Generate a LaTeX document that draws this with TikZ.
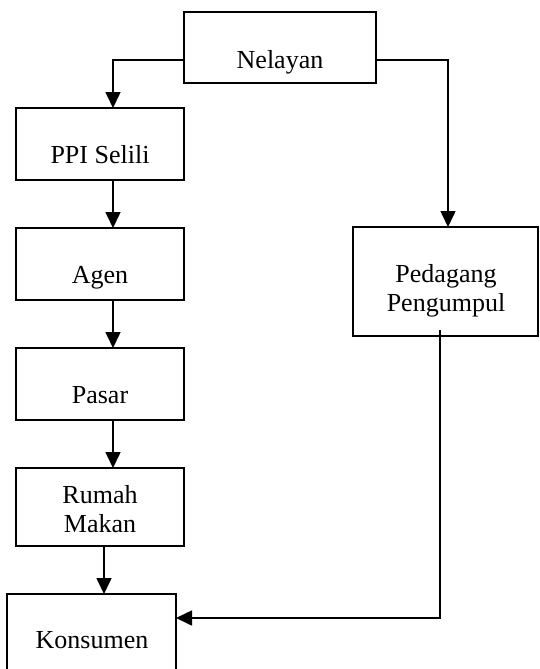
\documentclass[tikz,border=0pt]{standalone}
\usepackage{fontspec}
\setmainfont{Liberation Serif}
\usetikzlibrary{arrows.meta}
\tikzset{
  box/.style={draw=black, line width=1.6pt, rectangle, inner sep=0pt, outer sep=0pt},
  txt/.style={anchor=base, inner sep=0pt, font=\fontsize{26}{29}\selectfont, align=center},
  arr/.style={draw=black, line width=1.6pt, -{Triangle[length=16pt,width=15pt]}},
}
\begin{document}
\begin{tikzpicture}[x=1pt,y=-1pt]
\useasboundingbox (0,0) rectangle (539,669);
% boxes
\node[box, minimum width=192pt, minimum height=71pt] (nel) at (280,47.5) {};
\node[box, minimum width=168pt, minimum height=72pt] (ppi) at (100,144) {};
\node[box, minimum width=168pt, minimum height=72pt] (agen) at (100,264) {};
\node[box, minimum width=168pt, minimum height=72pt] (pasar) at (100,384) {};
\node[box, minimum width=168pt, minimum height=78pt] (rumah) at (100,507) {};
\node[box, minimum width=169pt, minimum height=92pt] (kons) at (91.5,640) {};
\node[box, minimum width=185pt, minimum height=109pt] (ped) at (445.5,281.5) {};
% texts
\node[txt] (tnel) at (280,68) {Nelayan};
\node[txt] (tppi) at (100,163) {PPI Selili};
\node[txt] (tagen) at (100,283) {Agen};
\node[txt] (tpasar) at (100,403) {Pasar};
\node[txt] (trumah1) at (100,503) {Rumah};
\node[txt] (trumah2) at (100,532) {Makan};
\node[txt] (tped1) at (446,282) {Pedagang};
\node[txt] (tped2) at (446,311) {Pengumpul};
\node[txt] (tkons) at (92,648) {Konsumen};
% connectors
\draw[arr] ([yshift=-12.5pt]nel.west) -| ([xshift=13pt]ppi.north);
\draw[arr] ([yshift=-12.5pt]nel.east) -| ([xshift=2.5pt]ped.north);
\draw[arr] ([xshift=13pt]ppi.south) -- ([xshift=13pt]agen.north);
\draw[arr] ([xshift=13pt]agen.south) -- ([xshift=13pt]pasar.north);
\draw[arr] ([xshift=13pt]pasar.south) -- ([xshift=13pt]rumah.north);
\draw[arr] ([xshift=4pt]rumah.south) -- ([xshift=12.5pt]kons.north);
\draw[arr] ([xshift=-5.5pt,yshift=6pt]ped.south) |- ([yshift=22pt]kons.east);
\end{tikzpicture}
\end{document}
